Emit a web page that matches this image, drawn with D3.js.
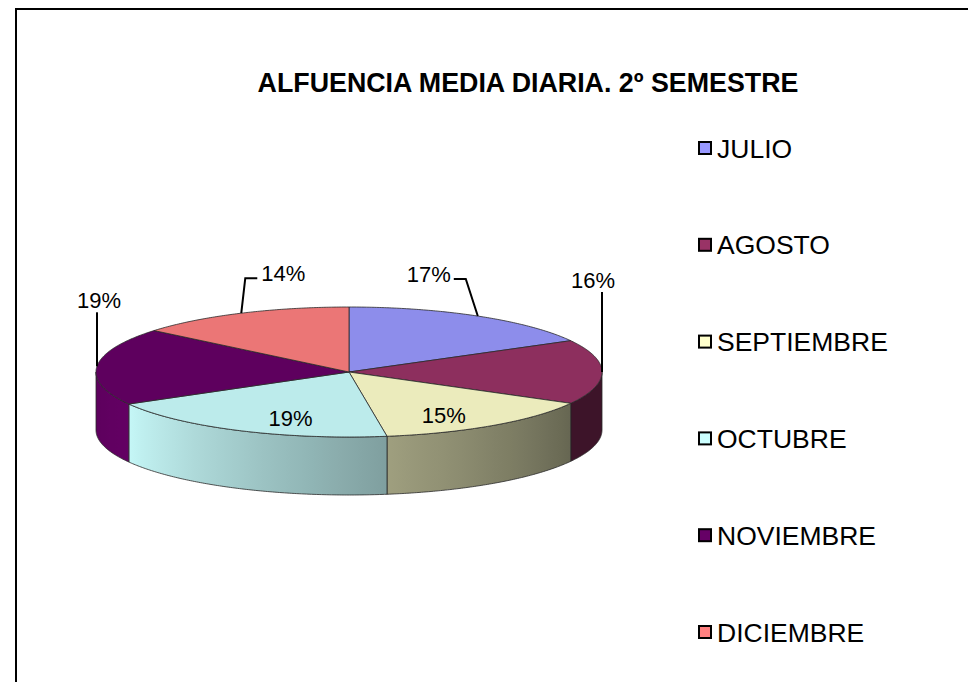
<!DOCTYPE html>
<html><head><meta charset="utf-8">
<script src="https://cdn.jsdelivr.net/npm/d3@7"></script>
<style>body{margin:0;background:#fff} svg{display:block}</style>
</head><body>
<script>
const categories = ["JULIO","AGOSTO","SEPTIEMBRE","OCTUBRE","NOVIEMBRE","DICIEMBRE"];
const values = [17.0, 16.0, 14.6, 19.2, 19.2, 14.0];
const pctLabels = ["17%","16%","15%","19%","19%","14%"];
const baseColors = ["#9999FF","#993366","#FFFFCC","#CCFFFF","#660066","#FF8080"];
const titleText = "ALFUENCIA MEDIA DIARIA. 2º SEMESTRE";

const W = 968, H = 682;
const FONT = "'Liberation Sans', Arial, sans-serif";
const svg = d3.select("body").append("svg").attr("width", W).attr("height", H);
const defs = svg.append("defs");

svg.append("rect").attr("x", 16).attr("y", 9).attr("width", W).attr("height", H)
  .attr("fill", "#fff").attr("stroke", "#000").attr("stroke-width", 2);

svg.append("text").attr("x", 528).attr("y", 92).attr("text-anchor", "middle")
  .attr("font-family", FONT).attr("font-weight", "bold").attr("font-size", 26.8)
  .text(titleText);

// pie geometry
const cx = 349, cy = 372, rx = 253, ry = 65, depth = 58;
const pie = d3.pie().sort(null).value(d => d);
const arcs = pie(values);
const pt = (a, dy = 0, f = 1) => [cx + f * rx * Math.sin(a), cy - f * ry * Math.cos(a) + dy];
const scaleColor = (c, k) => { const r = d3.rgb(c); return d3.rgb(r.r * k, r.g * k, r.b * k).formatHex(); };
const deg = d => d * Math.PI / 180;
const shade = d3.scaleLinear().domain([90, 119, 173, 241, 270].map(deg))
  .range([0.40, 0.40, 0.63, 0.97, 0.90]).clamp(true);
const TOPK = 0.92;

function arcPoints(a0, a1, dy) {
  const n = Math.max(2, Math.ceil(Math.abs(a1 - a0) / 0.01));
  return d3.range(n + 1).map(i => pt(a0 + (a1 - a0) * i / n, dy));
}
const line = d3.line();

// side faces (front half only)
const sides = svg.append("g");
arcs.forEach((d, i) => {
  const s = Math.max(d.startAngle, Math.PI / 2), e = Math.min(d.endAngle, 3 * Math.PI / 2);
  if (s >= e) return;
  const x1 = pt(s)[0], x2 = pt(e)[0];
  const g = defs.append("linearGradient").attr("id", "side" + i)
    .attr("gradientUnits", "userSpaceOnUse").attr("x1", x1).attr("x2", x2).attr("y1", 0).attr("y2", 0);
  const n = 12;
  d3.range(n + 1).forEach(k => {
    const a = s + (e - s) * k / n;
    const off = (pt(a)[0] - x1) / (x2 - x1);
    g.append("stop").attr("offset", Math.max(0, Math.min(1, off)))
      .attr("stop-color", scaleColor(baseColors[i], shade(a)));
  });
  const pts = arcPoints(s, e, 0).concat(arcPoints(e, s, depth));
  sides.append("path").attr("d", line(pts) + "Z")
    .attr("fill", `url(#side${i})`).attr("stroke", "#2a2a2a").attr("stroke-width", 0.8)
    .attr("stroke-linejoin", "round");
});

// top faces
const tops = svg.append("g");
arcs.forEach((d, i) => {
  const pts = [[cx, cy]].concat(arcPoints(d.startAngle, d.endAngle, 0));
  tops.append("path").attr("d", line(pts) + "Z")
    .attr("fill", scaleColor(baseColors[i], TOPK))
    .attr("stroke", "#2a2a2a").attr("stroke-width", 0.8).attr("stroke-linejoin", "round");
});

// data labels
const lab = svg.append("g").attr("font-family", FONT).attr("font-size", 22).attr("fill", "#000");
const leader = (pts) => lab.append("path").attr("d", line(pts)).attr("fill", "none")
  .attr("stroke", "#000").attr("stroke-width", 2);
// layout style per slice: how the label sits relative to its slice
const labelStyle = ["elbowLeft", "vertical", "inside", "inside", "vertical", "elbowRight"];
arcs.forEach((d, i) => {
  const mid = (d.startAngle + d.endAngle) / 2;
  const anchor = pt(mid);
  const st = labelStyle[i];
  if (st === "inside") {
    const p = pt(mid, 0, 0.6);
    lab.append("text").attr("x", p[0] + 8).attr("y", p[1] + 19).attr("text-anchor", "middle").text(pctLabels[i]);
  } else if (st === "vertical") {
    const top = [anchor[0], anchor[1] - (i === 1 ? 80 : 54)];
    leader([anchor, top]);
    lab.append("text").attr("x", top[0] + (i === 1 ? -9 : 2)).attr("y", top[1] - 4)
      .attr("text-anchor", "middle").text(pctLabels[i]);
  } else if (st === "elbowLeft") {
    const elbow = [anchor[0] - 12, anchor[1] - 37];
    const end = [elbow[0] - 12, elbow[1]];
    leader([anchor, elbow, end]);
    lab.append("text").attr("x", end[0] - 3).attr("y", elbow[1] + 3).attr("text-anchor", "end").text(pctLabels[i]);
  } else {
    const elbow = [anchor[0] + 4, anchor[1] - 35];
    const end = [elbow[0] + 12, elbow[1]];
    leader([anchor, elbow, end]);
    lab.append("text").attr("x", end[0] + 4).attr("y", elbow[1] + 3).attr("text-anchor", "start").text(pctLabels[i]);
  }
});

// legend
const ly = d3.scalePoint().domain(categories).range([148, 632]);
const leg = svg.append("g").attr("font-family", FONT).attr("font-size", 26.5);
categories.forEach((c, i) => {
  const y = ly(c);
  leg.append("rect").attr("x", 699).attr("y", y - 6).attr("width", 12).attr("height", 12)
    .attr("fill", baseColors[i]).attr("stroke", "#000").attr("stroke-width", 2);
  leg.append("text").attr("x", 717).attr("y", y + 9.5).text(c);
});
</script>
</body></html>
